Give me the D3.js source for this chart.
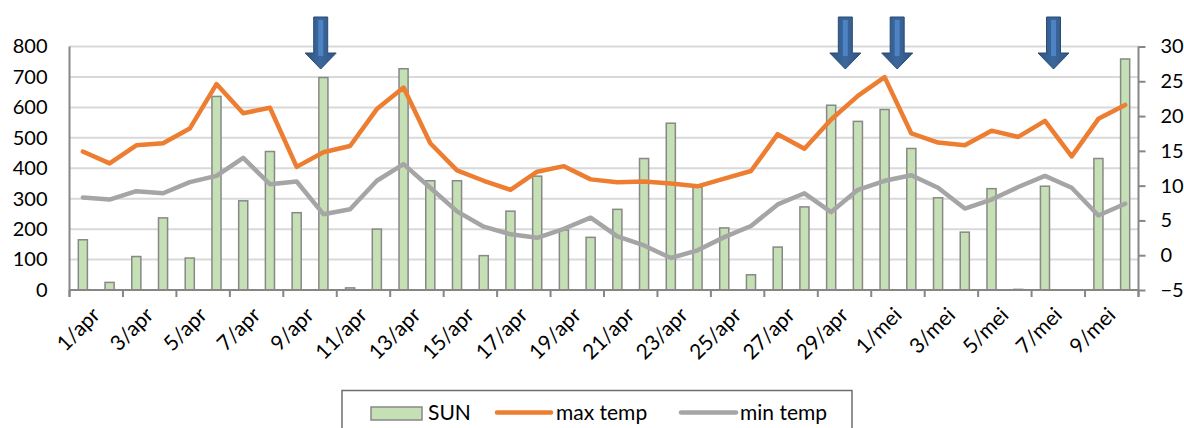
<!DOCTYPE html>
<html>
<head>
<meta charset="utf-8">
<script src="https://cdn.jsdelivr.net/npm/d3@7"></script>
<style>
  html, body { margin: 0; padding: 0; background: #fff; }
  svg { display: block; font-family: "Lato", "Open Sans", sans-serif; }
</style>
</head>
<body>
<svg id="chart" width="1184" height="428"></svg>
<script>
// categories: 1 apr .. 10 mei
const days = [
  "1/apr","2/apr","3/apr","4/apr","5/apr","6/apr","7/apr","8/apr","9/apr","10/apr",
  "11/apr","12/apr","13/apr","14/apr","15/apr","16/apr","17/apr","18/apr","19/apr","20/apr",
  "21/apr","22/apr","23/apr","24/apr","25/apr","26/apr","27/apr","28/apr","29/apr","30/apr",
  "1/mei","2/mei","3/mei","4/mei","5/mei","6/mei","7/mei","8/mei","9/mei","10/mei"
];
const sun = [
  165, 25, 110, 237, 105, 636, 293, 455, 254, 698,
  7, 200, 727, 359, 359, 113, 259, 374, 197, 173,
  265, 432, 548, 338, 204, 50, 141, 273, 607, 554,
  593, 465, 303, 190, 333, 2, 341, null, 432, 759
];
const maxTemp = [
  14.9, 13.2, 15.8, 16.1, 18.2, 24.6, 20.4, 21.2, 12.7, 14.8,
  15.7, 21.0, 24.1, 16.1, 12.2, 10.7, 9.4, 12.0, 12.8, 10.9,
  10.5, 10.6, 10.3, 9.9, 11.0, 12.1, 17.4, 15.3, 19.5, 22.9,
  25.6, 17.5, 16.2, 15.8, 17.9, 17.0, 19.3, 14.2, 19.6, 21.6
];
const minTemp = [
  8.3, 8.0, 9.2, 8.9, 10.5, 11.4, 14.0, 10.2, 10.6, 5.9,
  6.6, 10.7, 13.1, 9.7, 6.3, 4.1, 3.0, 2.5, 3.8, 5.4,
  2.7, 1.4, -0.4, 0.7, 2.6, 4.2, 7.3, 8.9, 6.2, 9.4,
  10.7, 11.5, 9.7, 6.7, 8.0, 9.8, 11.4, 9.7, 5.7, 7.4
];
const leftTicks = [0, 100, 200, 300, 400, 500, 600, 700, 800];
const rightTicks = [-5, 0, 5, 10, 15, 20, 25, 30];
// arrow markers, given as (fractional) category index
const arrowAt = [8.9, 28.53, 30.47, 36.32];

const svg = d3.select("#chart");
const plotLeft = 69.5, plotRight = 1138.5, plotTop = 46.5, plotBottom = 290;

const x = d3.scaleBand().domain(days).range([plotLeft, plotRight]).padding(0);
const xIdx = d3.scaleLinear().domain([-0.5, days.length - 0.5]).range([plotLeft, plotRight]);
const ySun = d3.scaleLinear().domain([0, 800]).range([plotBottom, plotTop]);
const yTemp = d3.scaleLinear().domain([-5, 30]).range([plotBottom, plotTop]);

// gridlines
svg.append("g").selectAll("line")
  .data(leftTicks.filter(d => d > 0)).enter().append("line")
  .attr("x1", plotLeft).attr("x2", plotRight)
  .attr("y1", d => ySun(d)).attr("y2", d => ySun(d))
  .attr("stroke", "#d9d9d9").attr("stroke-width", 2);

// bars
const bw = x.bandwidth() * 0.34;
svg.append("g").selectAll("rect")
  .data(days.map((d, i) => ({ day: d, v: sun[i] })).filter(d => d.v != null))
  .enter().append("rect")
  .attr("x", d => x(d.day) + x.bandwidth() / 2 - bw / 2)
  .attr("width", bw)
  .attr("y", d => ySun(d.v))
  .attr("height", d => plotBottom - ySun(d.v))
  .attr("fill", "#c5e0b4")
  .attr("stroke", "#888")
  .attr("stroke-width", 1.5);

// lines
const lineGen = d3.line()
  .x((d, i) => x(days[i]) + x.bandwidth() / 2)
  .y(d => yTemp(d));

svg.append("path").datum(maxTemp)
  .attr("d", lineGen).attr("fill", "none")
  .attr("stroke", "#ed7d31").attr("stroke-width", 4.5)
  .attr("stroke-linejoin", "round").attr("stroke-linecap", "round");

svg.append("path").datum(minTemp)
  .attr("d", lineGen).attr("fill", "none")
  .attr("stroke", "#a5a5a5").attr("stroke-width", 4.5)
  .attr("stroke-linejoin", "round").attr("stroke-linecap", "round");

// axes
const axisColor = "#868686";
const leftAxis = svg.append("g").attr("transform", `translate(${plotLeft},0)`)
  .call(d3.axisLeft(ySun).tickValues(leftTicks).tickSize(0).tickPadding(22));
leftAxis.select(".domain").remove();
leftAxis.append("line").attr("x1", 0).attr("x2", 0).attr("y1", plotTop).attr("y2", plotBottom + 7)
  .attr("stroke", axisColor).attr("stroke-width", 2);

const rightAxis = svg.append("g").attr("transform", `translate(${plotRight},0)`)
  .call(d3.axisRight(yTemp).tickValues(rightTicks).tickSize(7).tickPadding(15));
rightAxis.select(".domain").remove();
rightAxis.selectAll(".tick line").attr("stroke", axisColor).attr("stroke-width", 2);
rightAxis.append("line").attr("x1", 0).attr("x2", 0).attr("y1", plotTop).attr("y2", plotBottom + 7)
  .attr("stroke", axisColor).attr("stroke-width", 2);

[leftAxis, rightAxis].forEach(g => g.selectAll(".tick text")
  .attr("font-size", 20).attr("fill", "#000")
  .attr("font-family", "Lato, 'Open Sans', sans-serif"));

// x axis
const xg = svg.append("g");
xg.append("line").attr("x1", plotLeft).attr("x2", plotRight).attr("y1", plotBottom).attr("y2", plotBottom)
  .attr("stroke", axisColor).attr("stroke-width", 2);
const tickIdx = d3.range(0, days.length + 1, 2);
xg.selectAll("line.t").data(tickIdx).enter().append("line")
  .attr("class", "t")
  .attr("x1", d => xIdx(d - 0.5)).attr("x2", d => xIdx(d - 0.5))
  .attr("y1", plotBottom).attr("y2", plotBottom + 7)
  .attr("stroke", axisColor).attr("stroke-width", 2);
xg.selectAll("text").data(days.filter((d, i) => i % 2 === 0)).enter().append("text")
  .attr("transform", d => `translate(${x(d) + x.bandwidth() / 2 + 8},${plotBottom + 16}) rotate(-45)`)
  .attr("text-anchor", "end")
  .attr("dy", "0.7em")
  .attr("font-size", 21)
  .attr("fill", "#000")
  .text(d => d);

// arrows
const defs = svg.append("defs");
const grad = defs.append("linearGradient").attr("id", "arrowGrad")
  .attr("x1", "0").attr("x2", "1").attr("y1", "0").attr("y2", "0");
grad.append("stop").attr("offset", "0%").attr("stop-color", "#2f5583");
grad.append("stop").attr("offset", "50%").attr("stop-color", "#3c679c");
grad.append("stop").attr("offset", "100%").attr("stop-color", "#2f5583");

arrowAt.forEach(a => {
  const cx = xIdx(a);
  const g = svg.append("g").attr("transform", `translate(${cx},17)`);
  g.append("path")
    .attr("d", "M -7,0 L 7,0 L 7,36 L 15.5,36 L 0,52 L -15.5,36 L -7,36 Z")
    .attr("fill", "url(#arrowGrad)")
    .attr("stroke", "#2a4b74").attr("stroke-width", 1);
  g.append("rect")
    .attr("x", -2.5).attr("y", 3).attr("width", 5).attr("height", 36)
    .attr("fill", "#4f86c6").attr("opacity", 0.9);
});

// legend
const lg = svg.append("g");
lg.append("rect").attr("x", 342).attr("y", 390.5).attr("width", 510).attr("height", 50)
  .attr("fill", "#fff").attr("stroke", "#6e6e6e").attr("stroke-width", 1.5);
lg.append("rect").attr("x", 371).attr("y", 407).attr("width", 51).attr("height", 13)
  .attr("fill", "#c5e0b4").attr("stroke", "#888").attr("stroke-width", 1.5);
lg.append("text").attr("x", 428).attr("y", 420).attr("font-size", 21).text("SUN");
lg.append("line").attr("x1", 497).attr("x2", 551).attr("y1", 412.5).attr("y2", 412.5)
  .attr("stroke", "#ed7d31").attr("stroke-width", 4.5).attr("stroke-linecap", "round");
lg.append("text").attr("x", 556).attr("y", 420).attr("font-size", 21).text("max temp");
lg.append("line").attr("x1", 681).attr("x2", 736).attr("y1", 412.5).attr("y2", 412.5)
  .attr("stroke", "#a5a5a5").attr("stroke-width", 4.5).attr("stroke-linecap", "round");
lg.append("text").attr("x", 740).attr("y", 420).attr("font-size", 21).text("min temp");
</script>
</body>
</html>
